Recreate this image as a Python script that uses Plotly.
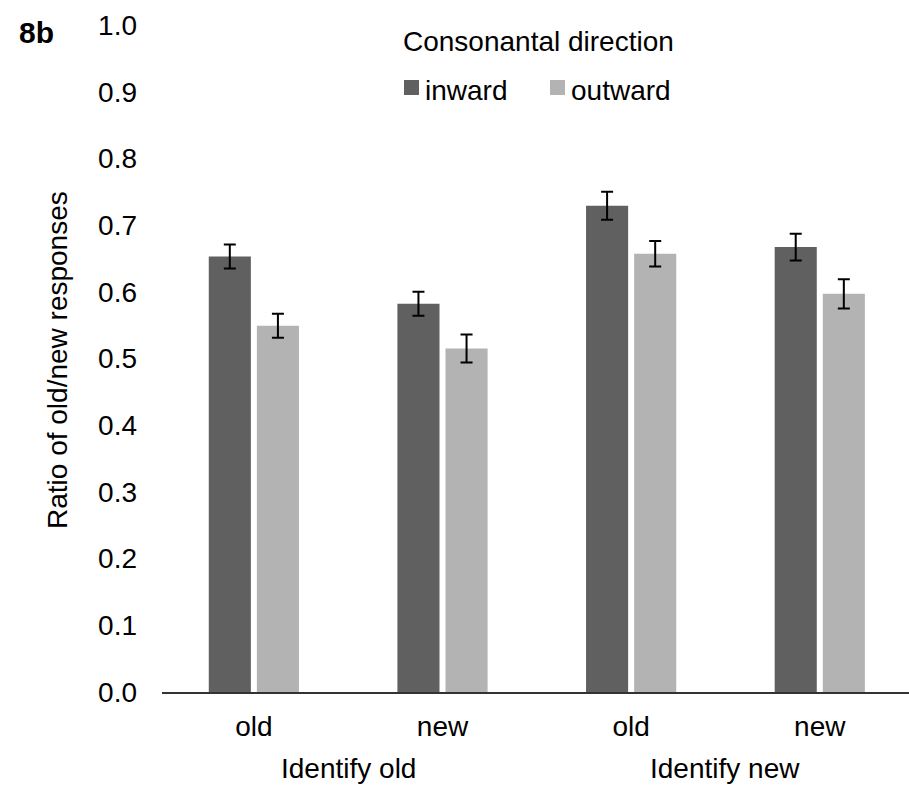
import plotly.graph_objects as go

# ---- data ----
groups = ["Identify old", "Identify new"]
tick_labels = ["old", "new", "old", "new"]
series_names = ["inward", "outward"]
series_colors = ["#606060", "#b3b3b3"]
inward_vals = [0.653, 0.582, 0.729, 0.667]
outward_vals = [0.549, 0.515, 0.657, 0.597]
inward_err = [0.018, 0.018, 0.021, 0.020]
outward_err = [0.018, 0.021, 0.019, 0.022]
y_ticks = [0.0, 0.1, 0.2, 0.3, 0.4, 0.5, 0.6, 0.7, 0.8, 0.9, 1.0]
legend_title = "Consonantal direction"

FONT = "Liberation Sans, Arial, sans-serif"
W, H = 909, 785
ML, MR, MT, MB = 162, 0, 25, 93
PW, PH = W - ML - MR, H - MT - MB


def px_x(p):
    return (p - ML) / PW


def px_y(p):
    return (H - MB - p) / PH


x_pos = list(range(len(tick_labels)))

fig = go.Figure()
for name, vals, errs, col in zip(series_names, [inward_vals, outward_vals],
                                 [inward_err, outward_err], series_colors):
    fig.add_trace(go.Bar(
        x=x_pos, y=vals, name=name,
        marker=dict(color=col, line=dict(width=0)),
        error_y=dict(type="data", array=errs, color="black", thickness=2, width=6),
    ))

# group labels under the category ticks
for i, g in enumerate(groups):
    fig.add_annotation(x=2 * i + 0.5, y=px_y(768), xref="x", yref="paper",
                       text=g, showarrow=False, xanchor="center", yanchor="middle",
                       font=dict(family=FONT, size=28, color="black"))

# y-axis title
fig.add_annotation(x=px_x(57), y=px_y(360), xref="paper", yref="paper",
                   text="Ratio of old/new responses", textangle=-90, showarrow=False,
                   xanchor="center", yanchor="middle",
                   font=dict(family=FONT, size=28, color="black"))

# panel label
fig.add_annotation(x=px_x(17), y=px_y(32), xref="paper", yref="paper",
                   text="<b>8b</b>", showarrow=False, xanchor="left", yanchor="middle",
                   font=dict(family=FONT, size=30, color="black"))

# legend (drawn by hand to match the original spacing)
fig.add_annotation(x=px_x(538), y=px_y(42), xref="paper", yref="paper",
                   text=legend_title, showarrow=False, xanchor="center", yanchor="middle",
                   font=dict(family=FONT, size=28, color="black"))
legend_sq_left = [404, 550]
for name, col, left in zip(series_names, series_colors, legend_sq_left):
    fig.add_shape(type="rect", xref="paper", yref="paper",
                  x0=px_x(left), x1=px_x(left + 15), y0=px_y(95), y1=px_y(80),
                  fillcolor=col, line=dict(width=0))
    fig.add_annotation(x=px_x(left + 19), y=px_y(90), xref="paper", yref="paper",
                       text=name, showarrow=False, xanchor="left", yanchor="middle",
                       font=dict(family=FONT, size=28, color="black"))

fig.update_layout(
    width=W, height=H,
    margin=dict(l=ML, r=MR, t=MT, b=MB, pad=0),
    paper_bgcolor="white", plot_bgcolor="white",
    font=dict(family=FONT, size=28, color="black"),
    barmode="group", bargap=0.49, bargroupgap=0.125,
    showlegend=False,
    xaxis=dict(
        tickmode="array", tickvals=x_pos, ticktext=tick_labels,
        range=[-0.487, 3.473], showgrid=False, zeroline=False,
        showline=True, linecolor="#333333", linewidth=2,
        ticks="", ticklabelstandoff=8,
        tickfont=dict(family=FONT, size=28, color="black"),
    ),
    yaxis=dict(
        range=[0, 1.0], tickmode="array", tickvals=y_ticks,
        ticktext=[f"{v:.1f}" for v in y_ticks],
        showgrid=False, zeroline=False, showline=False, ticks="",
        ticklabelstandoff=24,
        tickfont=dict(family=FONT, size=28, color="black"),
    ),
)

fig.write_html("out.html")
